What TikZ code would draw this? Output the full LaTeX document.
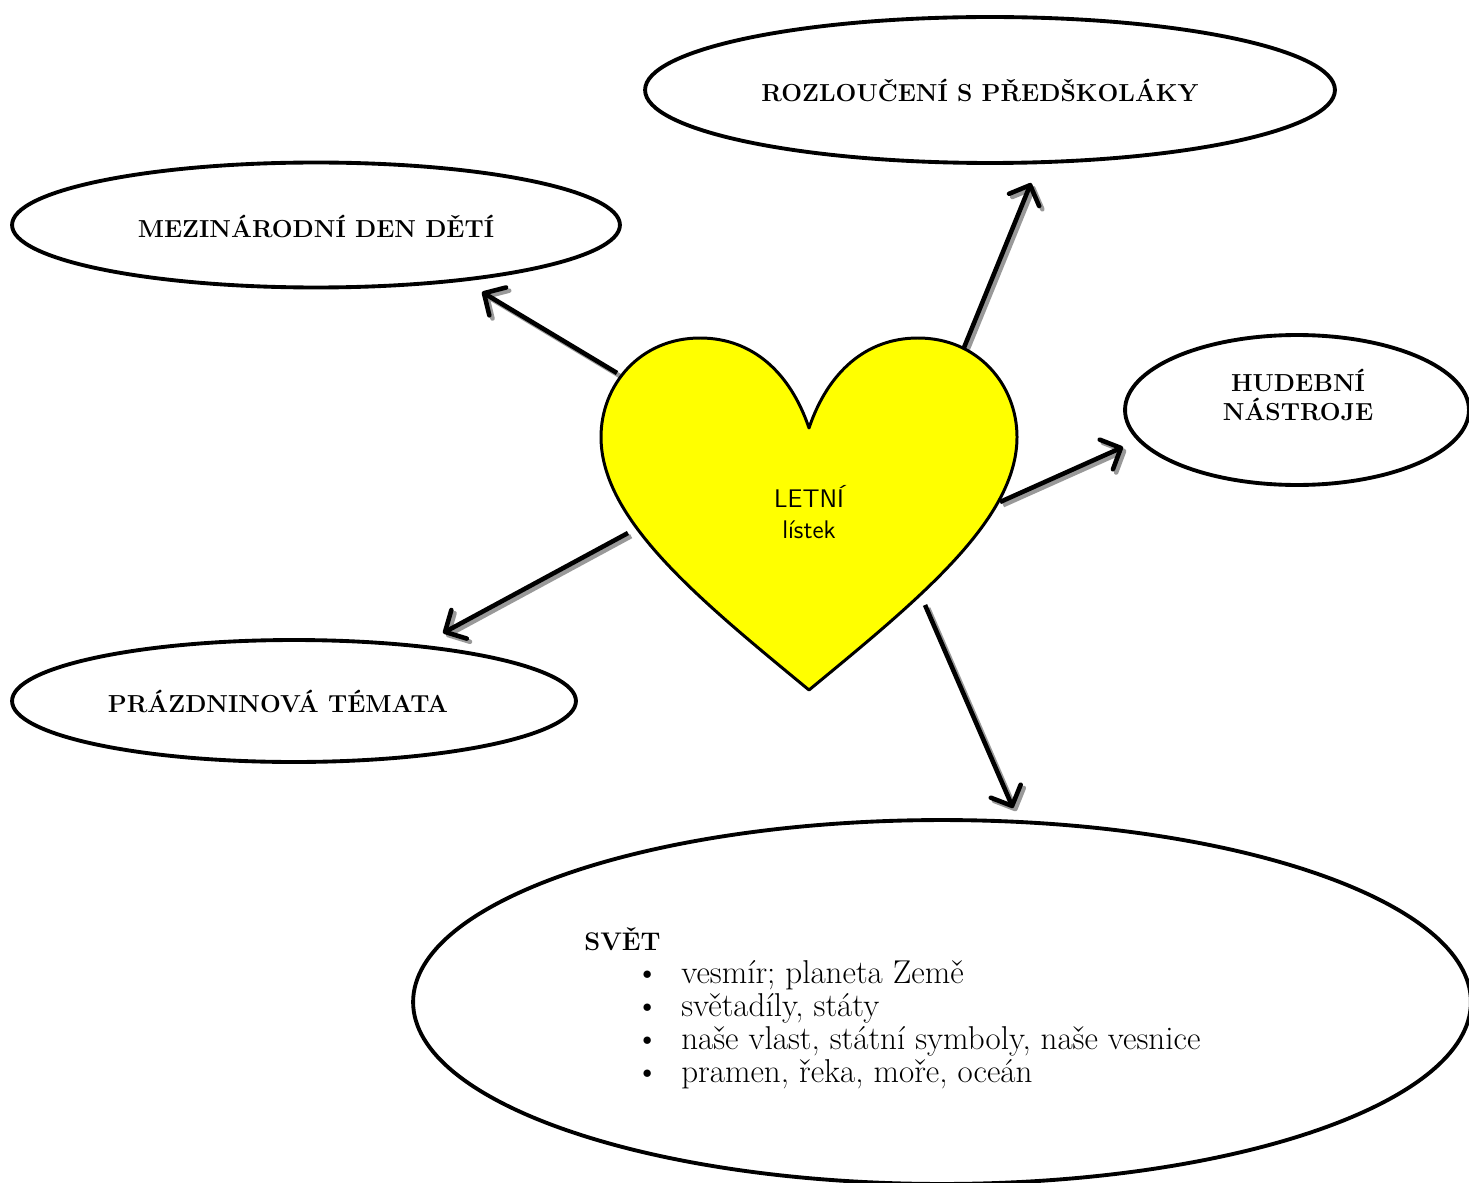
\documentclass[tikz,border=0pt]{standalone}
\usepackage{fontspec}
\usetikzlibrary{shapes.geometric,arrows.meta}
\definecolor{heartyellow}{RGB}{255,255,0}
\newcommand{\listbullet}{\hspace*{1.02cm}\makebox[0.92cm][l]{\textbullet}}
\tikzset{
  topic/.style={draw,ellipse,line width=2.2pt,inner sep=0pt,align=center,
    font=\fontsize{14}{17}\selectfont\bfseries},
  link/.style={line width=2.6pt,
    -{Straight Barb[length=3.2mm,width=6.5mm,line join=round,line cap=round]}},
  linkshadow/.style={link,draw=black!40,transform canvas={xshift=1.8pt,yshift=-1.8pt}},
}
\begin{document}
\begin{tikzpicture}[x=0.02cm,y=-0.02cm]
\useasboundingbox (0,0) rectangle (1469,1182);

% the five topics
\node[topic,minimum width=13.8cm,minimum height=2.92cm] (rozl) at (990,90) {};
\node[topic,draw=none] (rozlText) at (980,90) {ROZLOUČENÍ S PŘEDŠKOLÁKY};
\node[topic,minimum width=12.16cm,minimum height=2.5cm] (mez) at (316,225) {};
\node[topic,draw=none] (mezText) at (316,226) {MEZINÁRODNÍ DEN DĚTÍ};
\node[topic,minimum width=6.88cm,minimum height=3cm] (hud) at (1297,410) {};
\node[topic,draw=none] (hudText) at (1298,395) {HUDEBNÍ\\NÁSTROJE};
\node[topic,minimum width=11.28cm,minimum height=2.44cm] (praz) at (294,701) {};
\node[topic,draw=none] (prazText) at (278,701) {PRÁZDNINOVÁ TÉMATA};
\node[topic,minimum width=21.16cm,minimum height=7.28cm] (svet) at (942,1002) {};
\node[anchor=north west,inner sep=0pt,align=left,font=\fontsize{18.8}{18.8}\selectfont] (svetText) at (584,927)
  {{\fontsize{14.5}{18.8}\selectfont\bfseries SVĚT}\\
   \listbullet vesmír; planeta Země\\
   \listbullet světadíly, státy\\
   \listbullet naše vlast, státní symboly, naše vesnice\\
   \listbullet pramen, řeka, moře, oceán};

% arrows out of the heart
\coordinate (mez-from) at (617,373);  \coordinate (mez-to) at (482,292);
\coordinate (rozl-from) at (963,350); \coordinate (rozl-to) at (1031,183);
\coordinate (hud-from) at (1000,502); \coordinate (hud-to) at (1123,447);
\coordinate (praz-from) at (628,533); \coordinate (praz-to) at (443,633);
\coordinate (svet-from) at (925,605); \coordinate (svet-to) at (1013,808);
\foreach \t in {mez,rozl,hud,praz,svet}
  \draw[linkshadow] (\t-from) -- (\t-to);
\foreach \t in {mez,rozl,hud,praz,svet}
  \draw[link] (\t-from) -- (\t-to);

% heart
\draw[line width=1.7pt,fill=heartyellow,line join=round]
  (809,428) .. controls (790,372) and (752,338) .. (700,338)
  .. controls (640,338) and (601,385) .. (601,437)
  .. controls (601,520) and (700,600) .. (809,690)
  .. controls (918,600) and (1017,520) .. (1017,437)
  .. controls (1017,385) and (978,338) .. (918,338)
  .. controls (866,338) and (828,372) .. (809,428) -- cycle;
\node[align=center,font=\fontsize{14.5}{18}\selectfont\sffamily] (leaf) at (809,512) {LETNÍ\\lístek};
\end{tikzpicture}
\end{document}
